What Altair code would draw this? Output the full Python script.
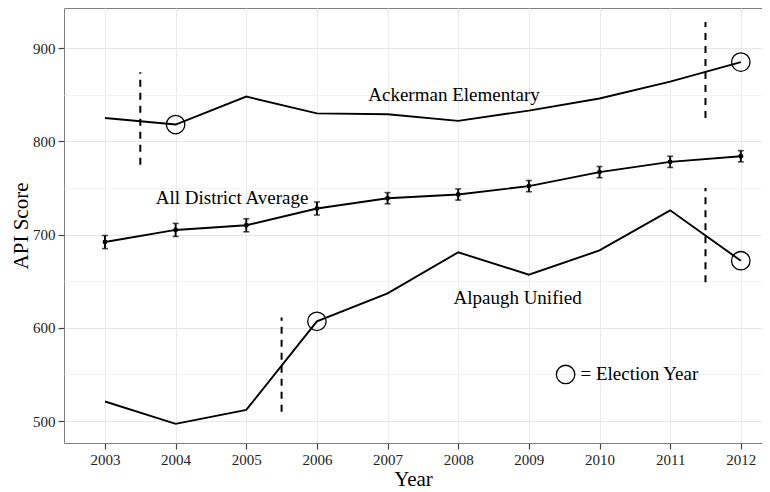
import altair as alt
import pandas as pd

years = [2003, 2004, 2005, 2006, 2007, 2008, 2009, 2010, 2011, 2012]
ackerman = [825, 818, 848, 830, 829, 822, 833, 846, 864, 885]
average = [692, 705, 710, 728, 739, 743, 752, 767, 778, 784]
avg_err = [7, 7, 7, 7, 6, 6, 6, 6, 6, 6]
alpaugh = [521, 497, 512, 607, 637, 681, 657, 683, 726, 672]

election_x = [2004, 2012, 2006, 2012]
election_y = [818, 885, 607, 672]

dash_x = [2003.5, 2011.5, 2005.5, 2011.5]
dash_lo = [775, 825, 510, 649]
dash_hi = [874, 928, 611, 750]

label_text = ["Ackerman Elementary", "All District Average", "Alpaugh Unified"]
label_x = [2007.94, 2004.8, 2008.84]
label_y = [850, 739, 632]

legend_x = [2009.52]
legend_y = [550]
legend_text = ["= Election Year"]
legend_text_x = [2009.73]

FONT = "Liberation Serif"

lines_df = pd.DataFrame({
    "year": years * 3,
    "score": ackerman + average + alpaugh,
    "school": ["Ackerman"] * 10 + ["Average"] * 10 + ["Alpaugh"] * 10,
})
avg_df = pd.DataFrame({
    "year": years,
    "score": average,
    "lo": [a - e for a, e in zip(average, avg_err)],
    "hi": [a + e for a, e in zip(average, avg_err)],
})
elec_df = pd.DataFrame({"year": election_x, "score": election_y})
dash_df = pd.DataFrame({"x": dash_x, "lo": dash_lo, "hi": dash_hi, "g": range(4)})
lab_df = pd.DataFrame({"x": label_x, "y": label_y, "t": label_text})
leg_df = pd.DataFrame({"x": legend_x, "y": legend_y})
legt_df = pd.DataFrame({"x": legend_text_x, "y": legend_y, "t": legend_text})

xscale = alt.Scale(domain=[2002.42, 2012.3], nice=False, zero=False)
yscale = alt.Scale(domain=[476.5, 943], nice=False, zero=False)

xaxis = alt.Axis(values=years, format="d", title="Year", grid=True,
                 gridColor="#ebebeb")
yaxis = alt.Axis(values=[500, 550, 600, 650, 700, 750, 800, 850, 900],
                 title="API Score", grid=True,
                 gridColor={"condition": {"test": "datum.value % 100 === 0", "value": "#e6e6e6"}, "value": "#f3f3f3"},
                 tickOpacity={"condition": {"test": "datum.value % 100 === 0", "value": 1}, "value": 0},
                 labelExpr="datum.value % 100 === 0 ? datum.label : ''")

X = lambda f: alt.X(f, type="quantitative", scale=xscale, axis=xaxis)
Y = lambda f: alt.Y(f, type="quantitative", scale=yscale, axis=yaxis)

lines = alt.Chart(lines_df).mark_line(color="black", strokeWidth=1.9).encode(
    x=X("year"), y=Y("score"), detail="school:N")

err = alt.Chart(avg_df).mark_rule(color="black", strokeWidth=1.9).encode(
    x=X("year"), y=Y("lo"), y2="hi")
cap_lo = alt.Chart(avg_df).mark_tick(color="black", orient="horizontal", size=6, thickness=1.6).encode(
    x=X("year"), y=Y("lo"))
cap_hi = alt.Chart(avg_df).mark_tick(color="black", orient="horizontal", size=6, thickness=1.6).encode(
    x=X("year"), y=Y("hi"))
dots = alt.Chart(avg_df).mark_circle(color="black", opacity=1, size=24).encode(
    x=X("year"), y=Y("score"))

dashes = alt.Chart(dash_df).mark_rule(color="black", strokeWidth=2, strokeDash=[7, 6]).encode(
    x=X("x"), y=Y("lo"), y2="hi")

elec = alt.Chart(elec_df).mark_point(shape="circle", filled=False, color="black",
                                      strokeWidth=1.3, size=340, opacity=1).encode(
    x=X("year"), y=Y("score"))

labels = alt.Chart(lab_df).mark_text(font=FONT, fontSize=19, color="black").encode(
    x=X("x"), y=Y("y"), text="t")

leg_c = alt.Chart(leg_df).mark_point(shape="circle", filled=False, color="black",
                                      strokeWidth=1.3, size=340, opacity=1).encode(
    x=X("x"), y=Y("y"))
leg_t = alt.Chart(legt_df).mark_text(font=FONT, fontSize=19, color="black", align="left").encode(
    x=X("x"), y=Y("y"), text="t")

chart = alt.layer(lines, err, cap_lo, cap_hi, dots, dashes, elec, labels, leg_c, leg_t).properties(
    width=698, height=435,
    autosize=alt.AutoSizeParams(type="none"),
    padding={"left": 56, "top": 0, "right": 0, "bottom": 49},
).configure_view(
    stroke="#7f7f7f", strokeWidth=1
).configure_axis(
    domain=False,
    labelFont=FONT, labelFontSize=15, labelColor="#222222",
    titleFont=FONT, titleFontSize=21, titleFontWeight="normal", titleColor="black",
    tickColor="#444444", tickSize=6, tickWidth=1.2, labelPadding=3,
).configure_axisX(titlePadding=1).configure_axisY(titlePadding=1, labelPadding=3)

chart.save("out.html", embed_options={"renderer": "svg", "actions": False})
